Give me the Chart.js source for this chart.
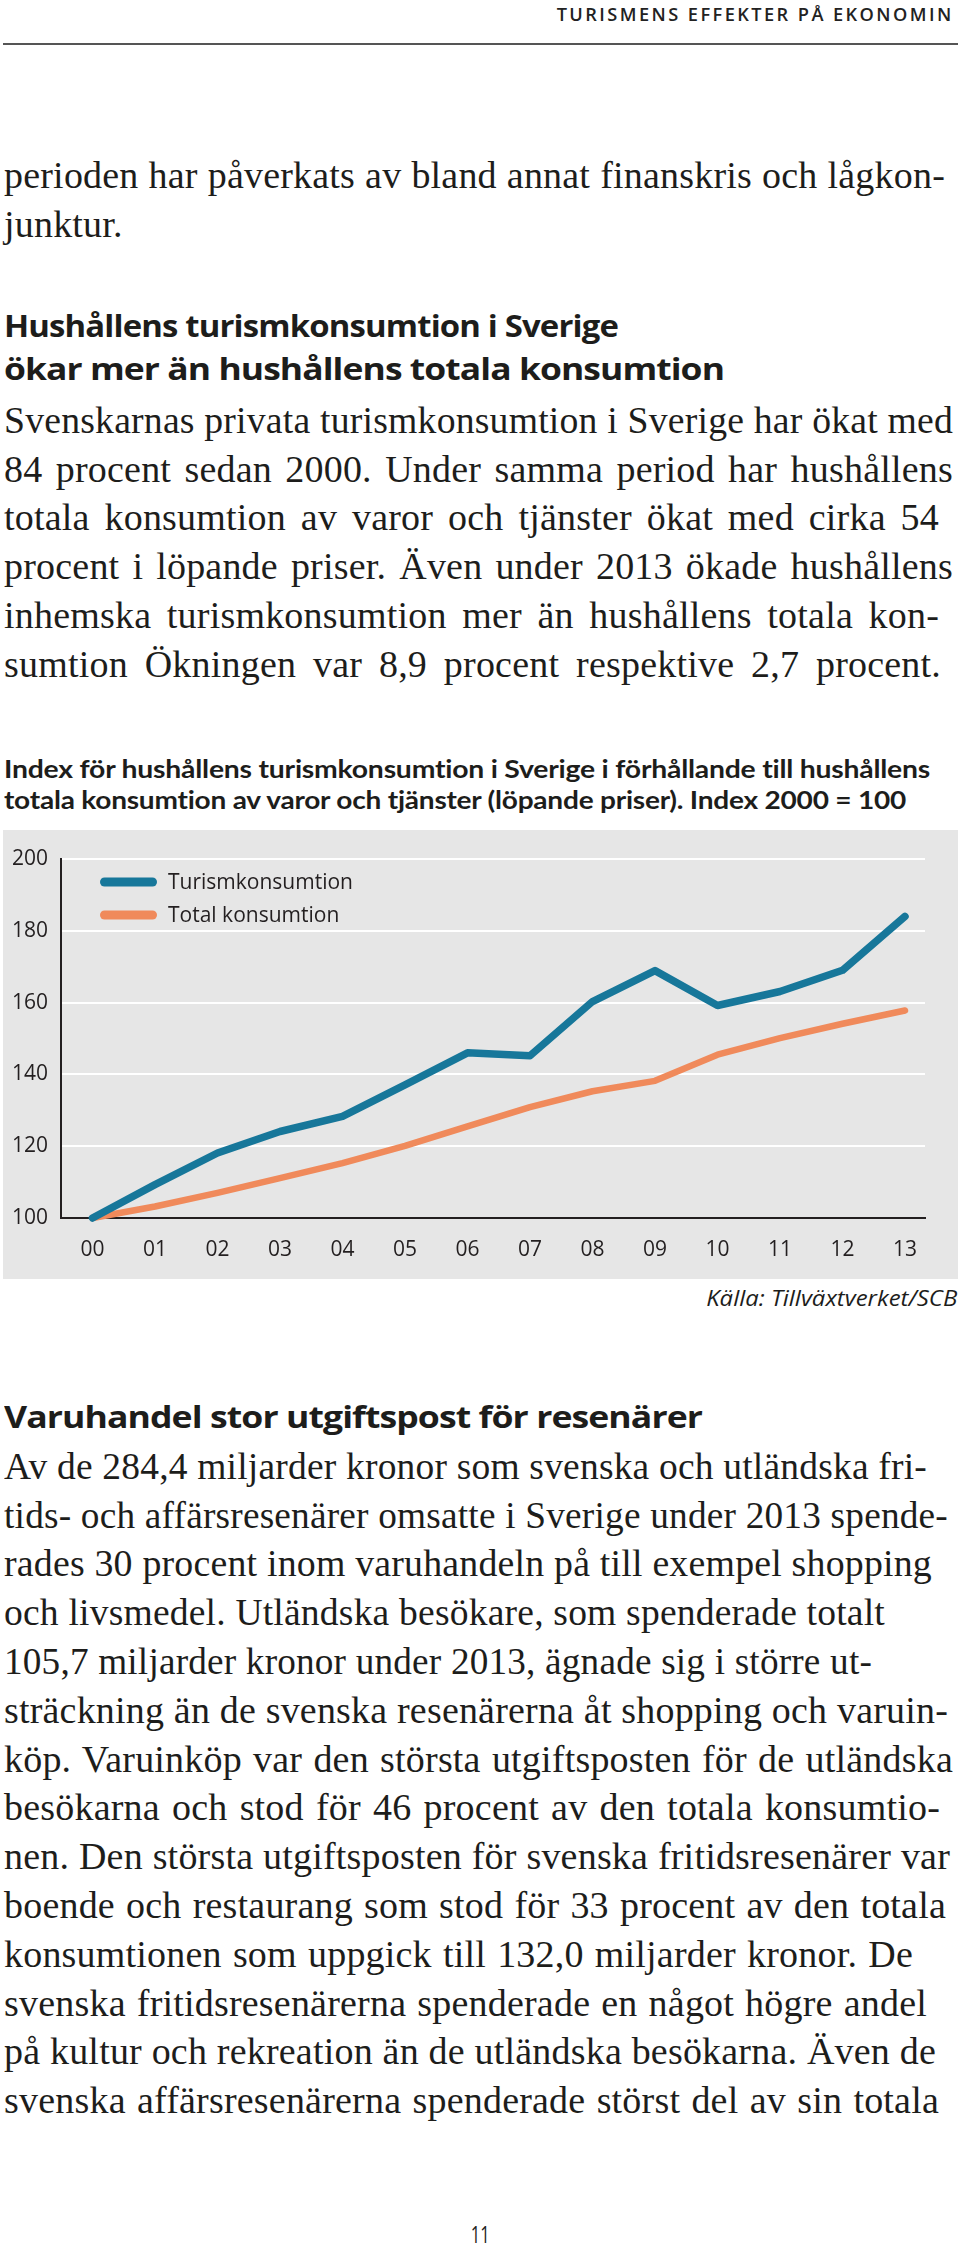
<!DOCTYPE html>
<html><head><meta charset="utf-8">
<script src="https://cdn.jsdelivr.net/npm/chart.js@4.4.1/dist/chart.umd.min.js"></script>
<style>
html,body{margin:0;padding:0;background:#fff;}
body{width:960px;height:2248px;position:relative;overflow:hidden;color:#1d1d1b;}
.abs{position:absolute;}
.serif{font-family:"Liberation Serif",serif;font-size:38px;letter-spacing:0.2px;line-height:48.8px;left:4px;}
.serif div{height:48.8px;white-space:nowrap;}
.serif span{display:inline-block;white-space:nowrap;transform-origin:0 50%;line-height:40px;vertical-align:baseline;}
.sans{font-family:"Open Sans",sans-serif;line-height:1;white-space:nowrap;}
.fit{display:inline-block;white-space:nowrap;transform-origin:0 50%;}
.hd{font-size:31px;font-weight:700;letter-spacing:-0.8px;}
.cap{font-family:Lato,"Open Sans",sans-serif;font-size:25.5px;font-weight:700;letter-spacing:-0.2px;}
#chartBox{position:absolute;left:3px;top:830px;width:955px;height:449px;background:#e6e6e6;}
</style></head><body>

<div class="abs sans" style="right:6px;top:5px;font-size:18px;font-weight:600;letter-spacing:2.4px;color:#222;"><span class="fit" data-w="397" style="transform-origin:100% 50%">TURISMENS EFFEKTER PÅ EKONOMIN</span></div>
<div class="abs" style="left:3px;top:43px;width:955px;height:2px;background:#555;"></div>

<div class="abs serif" style="top:150.8px;">
<div><span data-r="945">perioden har påverkats av bland annat finanskris och lågkon-</span></div>
<div><span>junktur.</span></div>
</div>

<div class="abs sans hd" style="left:4px;top:309.5px;"><span class="fit" data-w="614">Hushållens turismkonsumtion i Sverige</span></div>
<div class="abs sans hd" style="left:4px;top:352.5px;"><span class="fit" data-w="720">ökar mer än hushållens totala konsumtion</span></div>

<div class="abs serif" style="top:395.8px;">
<div><span data-r="953">Svenskarnas privata turismkonsumtion i Sverige har ökat med</span></div>
<div><span data-r="953">84 procent sedan 2000. Under samma period har hushållens</span></div>
<div><span data-r="939">totala konsumtion av varor och tjänster ökat med cirka 54</span></div>
<div><span data-r="953">procent i löpande priser. Även under 2013 ökade hushållens</span></div>
<div><span data-r="939">inhemska turismkonsumtion mer än hushållens totala kon-</span></div>
<div><span data-r="941">sumtion Ökningen var 8,9 procent respektive 2,7 procent.</span></div>
</div>

<div class="abs sans cap" style="left:4px;top:755.5px;"><span class="fit" data-w="926">Index för hushållens turismkonsumtion i Sverige i förhållande till hushållens</span></div>
<div class="abs sans cap" style="left:4px;top:786.5px;"><span class="fit" data-w="902">totala konsumtion av varor och tjänster (löpande priser). Index 2000 = 100</span></div>

<div id="chartBox"><canvas id="c"></canvas></div>

<div class="abs sans" style="right:3px;top:1285.5px;font-size:22px;font-style:italic;"><span class="fit" data-w="251" style="transform-origin:100% 50%">Källa: Tillväxtverket/SCB</span></div>

<div class="abs sans hd" style="left:4px;top:1400.5px;"><span class="fit" data-w="698">Varuhandel stor utgiftspost för resenärer</span></div>

<div class="abs serif" style="top:1441.8px;">
<div><span data-r="927">Av de 284,4 miljarder kronor som svenska och utländska fri-</span></div>
<div><span data-r="948">tids- och affärsresenärer omsatte i Sverige under 2013 spende-</span></div>
<div><span data-r="932">rades 30 procent inom varuhandeln på till exempel shopping</span></div>
<div><span data-r="885">och livsmedel. Utländska besökare, som spenderade totalt</span></div>
<div><span data-r="872">105,7 miljarder kronor under 2013, ägnade sig i större ut-</span></div>
<div><span data-r="948">sträckning än de svenska resenärerna åt shopping och varuin-</span></div>
<div><span data-r="953">köp. Varuinköp var den största utgiftsposten för de utländska</span></div>
<div><span data-r="940">besökarna och stod för 46 procent av den totala konsumtio-</span></div>
<div><span data-r="950">nen. Den största utgiftsposten för svenska fritidsresenärer var</span></div>
<div><span data-r="946">boende och restaurang som stod för 33 procent av den totala</span></div>
<div><span data-r="913">konsumtionen som uppgick till 132,0 miljarder kronor. De</span></div>
<div><span data-r="927">svenska fritidsresenärerna spenderade en något högre andel</span></div>
<div><span data-r="936">på kultur och rekreation än de utländska besökarna. Även de</span></div>
<div><span data-r="939">svenska affärsresenärerna spenderade störst del av sin totala</span></div>
</div>

<div class="abs sans" style="left:0;width:960px;text-align:center;top:2223px;font-size:23px;"><span class="fit" data-w="19" style="transform-origin:50% 50%">11</span></div>

<script>
// ---- chart data ----
const years = ['00','01','02','03','04','05','06','07','08','09','10','11','12','13'];
const turismkonsumtion = [100, 109.3, 118.1, 124.1, 128.3, 137.1, 146.0, 145.2, 160.3, 168.9, 159.2, 163.1, 169.0, 184.0];
const totalKonsumtion = [100, 103.2, 107.0, 111.1, 115.3, 120.1, 125.5, 130.9, 135.3, 138.2, 145.5, 150.1, 154.1, 157.8];
const yTicks = [100, 120, 140, 160, 180, 200];
const seriesNames = ['Turismkonsumtion', 'Total konsumtion'];

function fitText(){
  document.querySelectorAll('.fit[data-w]').forEach(el=>{
    const w = el.getBoundingClientRect().width;
    const t = parseFloat(el.dataset.w);
    if (w > 0) el.style.transform = 'scaleX(' + (t / w) + ')';
  });
  document.querySelectorAll('.serif span[data-r]').forEach(el=>{
    const left = el.getBoundingClientRect().left;
    const w = el.getBoundingClientRect().width;
    const t = parseFloat(el.dataset.r) - left;
    const n = (el.textContent.match(/ /g) || []).length;
    if (t > w && n > 0) el.style.wordSpacing = ((t - w) / n) + 'px';
    else if (w > 0) el.style.transform = 'scaleX(' + (t / w) + ')';
  });
}

const legendPlugin = {
  id: 'innerLegend',
  afterDraw(chart){
    const {ctx, chartArea: a} = chart;
    chart.data.datasets.forEach((ds, i) => {
      const y = a.top + 23 + i * 33;
      ctx.save();
      ctx.strokeStyle = ds.borderColor;
      ctx.lineWidth = 9;
      ctx.lineCap = 'round';
      ctx.beginPath();
      ctx.moveTo(a.left + 43.5, y);
      ctx.lineTo(a.left + 91.5, y);
      ctx.stroke();
      ctx.fillStyle = '#231f20';
      ctx.font = '21px "Open Sans"';
      ctx.textBaseline = 'middle';
      ctx.textAlign = 'left';
      ctx.fillText(ds.label, a.left + 107, y + 1);
      ctx.restore();
    });
  }
};

function makeChart(){
  Chart.defaults.font.family = '"Open Sans", sans-serif';
  Chart.defaults.font.size = 21;
  Chart.defaults.color = '#231f20';
  new Chart(document.getElementById('c'), {
    type: 'line',
    data: {
      datasets: [
        { label: seriesNames[0], data: turismkonsumtion.map((v, i) => ({x: i, y: v})),
          borderColor: '#17779a', borderWidth: 7.5, pointRadius: 0, tension: 0,
          borderCapStyle: 'round', borderJoinStyle: 'round', clip: false, fill: false },
        { label: seriesNames[1], data: totalKonsumtion.map((v, i) => ({x: i, y: v})),
          borderColor: '#f08a5b', borderWidth: 6.5, pointRadius: 0, tension: 0,
          borderCapStyle: 'round', borderJoinStyle: 'round', clip: false, fill: false }
      ]
    },
    options: {
      responsive: true, maintainAspectRatio: false, animation: false,
      devicePixelRatio: 1,
      layout: { padding: { top: 29, right: 33, left: 0, bottom: 0 } },
      plugins: { legend: { display: false }, tooltip: { enabled: false } },
      scales: {
        x: {
          type: 'linear', min: -0.504, max: 13.32,
          afterBuildTicks: s => { s.ticks = years.map((_, i) => ({ value: i })); },
          afterFit: s => { s.height = 61; },
          ticks: { padding: 19, autoSkip: false, maxRotation: 0,
                   callback: v => years[v] !== undefined ? years[v] : '' },
          grid: { display: false, drawTicks: false },
          border: { display: true, color: '#231f20', width: 2 }
        },
        y: {
          min: 100, max: 200,
          afterBuildTicks: s => { s.ticks = yTicks.map(v => ({ value: v })); },
          afterFit: s => { s.width = 58; },
          ticks: { padding: 13 },
          grid: { color: '#ffffff', lineWidth: 2, drawTicks: false },
          border: { display: true, color: '#231f20', width: 2 }
        }
      }
    },
    plugins: [legendPlugin]
  });
}

(document.fonts && document.fonts.ready ? document.fonts.ready : Promise.resolve()).then(() => {
  fitText();
  makeChart();
});
</script>
</body></html>
